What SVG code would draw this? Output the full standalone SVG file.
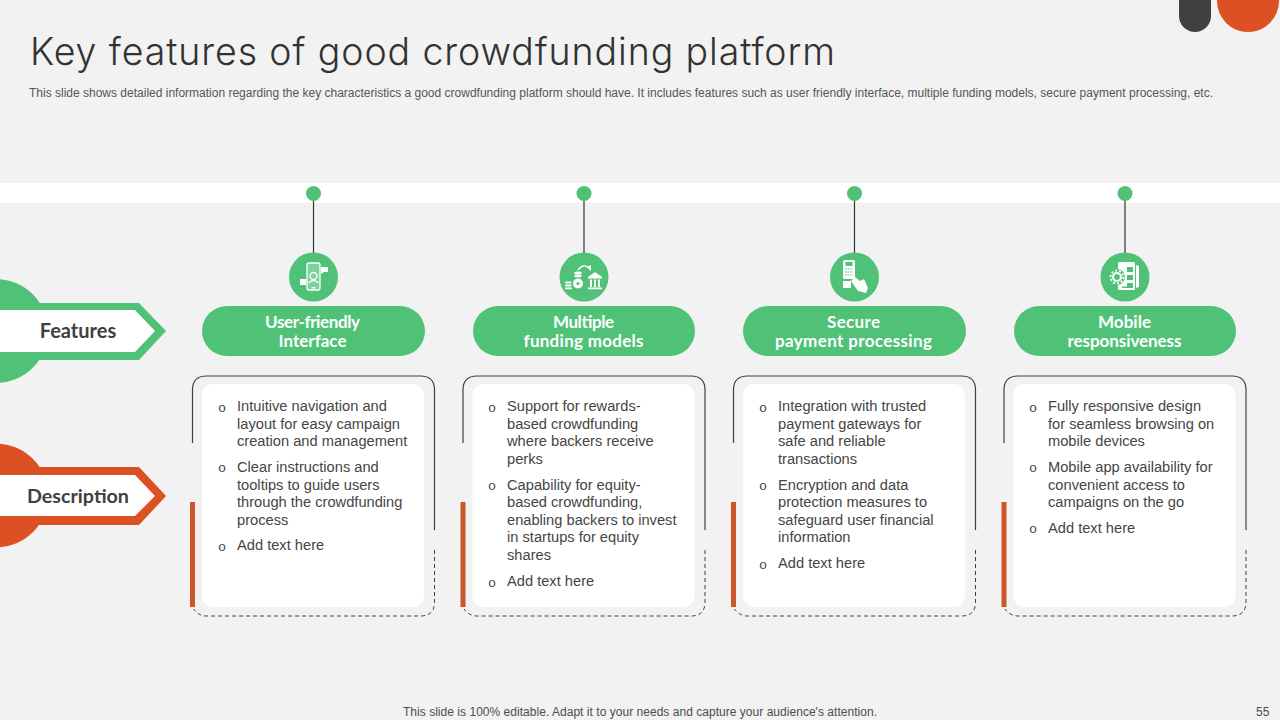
<svg xmlns="http://www.w3.org/2000/svg" xmlns:xlink="http://www.w3.org/1999/xlink" width="1280" height="720" viewBox="0 0 1280 720">
<style>
text{font-family:"Liberation Sans",Arial,sans-serif;fill:#454545}
.t{font-family:Inter,Lato,sans-serif;font-weight:300;font-size:37.500px;fill:#333}
.sub{font-size:12px;fill:#555}
.foot{font-size:12px;fill:#4d4d4d}
.b{font-size:14.67px}
.bu{font-family:"Liberation Mono",monospace;font-size:13.500px;text-anchor:middle}
.pill{fill:#50C278}
.pt{font-family:Lato,"Open Sans",sans-serif;font-size:17px;font-weight:700;fill:#fff;text-anchor:middle}
.lab{font-family:Lato,"Open Sans",sans-serif;font-size:20px;font-weight:700;text-anchor:middle;fill:#404040}
.fr{fill:none;stroke:#404040;stroke-width:1.2}
.da{fill:none;stroke:#404040;stroke-width:1;stroke-dasharray:4 3}
.st{fill:none;stroke:#fff;stroke-width:1.3}
.w{fill:#fff}
</style>
<defs>
<g id="frame">
<path class="fr" d="M0 67V14Q0 0 14 0H228Q242 0 242 14V154"/>
<path class="da" d="M242 174V226Q242 240 228 240H14Q6 240 1 233"/>
<rect x="-2.500" y="126" width="5" height="105" fill="#CC5529"/>
<rect x="9.500" y="8" width="222" height="223" rx="11" fill="#fff"/>
</g>
<g id="stem">
<path d="M0 0V60" stroke="#333" stroke-width="1.200"/>
<circle r="7.500" fill="#50C278"/>
</g>
</defs>
<rect width="1280" height="720" fill="#F2F2F2"/>
<g id="corner">
<path d="M1179 0H1211V16A16 16 0 0 1 1179 16Z" fill="#404040"/>
<circle cx="1248" cy="1" r="31" fill="#DD5022"/>
</g>
<g id="header">
<text class="t" x="30" y="65" textLength="805">Key features of good crowdfunding platform</text>
<text class="sub" x="29" y="97" textLength="1184">This slide shows detailed information regarding the key characteristics a good crowdfunding platform should have. It includes features such as user friendly interface, multiple funding models, secure payment processing, etc.</text>
</g>
<rect id="band" x="0" y="183" width="1280" height="20" fill="#fff"/>
<g id="connectors">
<use xlink:href="#stem" href="#stem" x="313.500" y="193.500"/>
<use xlink:href="#stem" href="#stem" x="584" y="193.500"/>
<use xlink:href="#stem" href="#stem" x="854.500" y="193.500"/>
<use xlink:href="#stem" href="#stem" x="1125" y="193.500"/>
</g>
<g id="features">
<circle cx="-4" cy="331" r="52" fill="#50C278"/>
<path d="M0 303H139L166 331L139 360H0Z" fill="#50C278"/>
<path d="M0 310H135L155 331L135 352H0Z" fill="#fff"/>
<text class="lab" x="78" y="338">Features</text>
</g>
<g id="description">
<circle cx="-4" cy="495.500" r="52" fill="#DD5022"/>
<path d="M0 467H139L166 496L139 525H0Z" fill="#DD5022"/>
<path d="M0 475H135L155 496L135 516H0Z" fill="#fff"/>
<text class="lab" x="78" y="503" style="font-size:19.700px">Description</text>
</g>
<g id="col1">
<circle cx="313.500" cy="277" r="24.500" fill="#50C278"/>
<g>
<rect x="307" y="263" width="13" height="27" rx="2" fill="#fff" fill-opacity=".25" stroke="#fff" stroke-width="1.300"/>
<circle cx="313.500" cy="276" r="3.500" class="st"/>
<path d="M308.500 283Q313.500 278 318.500 283" class="st"/>
<path d="M321 267h7v5h-4l-3 2z" class="w"/>
<rect x="300" y="279" width="6" height="6" class="w"/>
<rect x="311.500" y="287" width="4" height="1.500" class="w"/>
</g>
<rect class="pill" x="202" y="306" width="223" height="50" rx="25"/>
<text class="pt" x="312.500" y="328" textLength="95">User-friendly</text>
<text class="pt" x="312.500" y="347" textLength="68">Interface</text>
<use xlink:href="#frame" href="#frame" x="192.500" y="376"/>
<text class="bu" x="222" y="412">o</text>
<text class="b" x="237" y="411">Intuitive navigation and</text>
<text class="b" x="237" y="429">layout for easy campaign</text>
<text class="b" x="237" y="446">creation and management</text>
<text class="bu" x="222" y="472">o</text>
<text class="b" x="237" y="472">Clear instructions and</text>
<text class="b" x="237" y="490">tooltips to guide users</text>
<text class="b" x="237" y="507">through the crowdfunding</text>
<text class="b" x="237" y="525">process</text>
<text class="bu" x="222" y="551">o</text>
<text class="b" x="237" y="550">Add text here</text>
</g>
<g id="col2">
<circle cx="584" cy="277" r="24.500" fill="#50C278"/>
<g>
<path d="M578 270Q583 263 589 268" class="st"/>
<path d="M591 271L591 265L586.500 267Z" class="w"/>
<ellipse cx="578" cy="273" rx="3.800" ry="1.400" class="w"/>
<ellipse cx="578" cy="276" rx="3.800" ry="1.400" class="w"/>
<circle cx="578" cy="283.500" r="5" class="w"/>
<circle cx="578" cy="283.500" r="1.600" fill="#50C278"/>
<rect x="565" y="281.500" width="6.500" height="2" rx="1" class="w"/>
<rect x="565" y="284.500" width="6.500" height="2" rx="1" class="w"/>
<rect x="565" y="287.500" width="7" height="1.800" rx=".9" class="w"/>
<path d="M588 277L595 272L602 277V278.500H588Z" class="w"/>
<path d="M590 279.500h2v7.500h-2zM594 279.500h2v7.500h-2zM598 279.500h2v7.500h-2zM588 287.500h14v1.800h-14z" class="w"/>
</g>
<rect class="pill" x="473" y="306" width="222" height="50" rx="25"/>
<text class="pt" x="583.500" y="328" textLength="61">Multiple</text>
<text class="pt" x="583.500" y="347" textLength="120">funding models</text>
<use xlink:href="#frame" href="#frame" x="463" y="376"/>
<text class="bu" x="492" y="412">o</text>
<text class="b" x="507" y="411">Support for rewards-</text>
<text class="b" x="507" y="429">based crowdfunding</text>
<text class="b" x="507" y="446">where backers receive</text>
<text class="b" x="507" y="464">perks</text>
<text class="bu" x="492" y="490">o</text>
<text class="b" x="507" y="490">Capability for equity-</text>
<text class="b" x="507" y="507">based crowdfunding,</text>
<text class="b" x="507" y="525">enabling backers to invest</text>
<text class="b" x="507" y="542">in startups for equity</text>
<text class="b" x="507" y="560">shares</text>
<text class="bu" x="492" y="587">o</text>
<text class="b" x="507" y="586">Add text here</text>
</g>
<g id="col3">
<circle cx="854.500" cy="277" r="24.500" fill="#50C278"/>
<g>
<rect x="843" y="260" width="12" height="19" rx="1.500" class="w"/>
<rect x="845.500" y="262" width="7" height="4" fill="#50C278"/>
<path d="M845 269h8M845 272h8M845 275h8" stroke="#50C278" stroke-width="1.200" stroke-dasharray="1.500 1"/>
<rect x="843" y="281" width="8" height="7" class="w"/>
<path d="M855 277L860 281L864 279L868 288L866 293L858 291L851 281Z" class="w"/>
</g>
<rect class="pill" x="743" y="306" width="223" height="50" rx="25"/>
<text class="pt" x="853.500" y="328" textLength="53">Secure</text>
<text class="pt" x="853.500" y="347" textLength="157">payment processing</text>
<use xlink:href="#frame" href="#frame" x="733.500" y="376"/>
<text class="bu" x="763" y="412">o</text>
<text class="b" x="778" y="411">Integration with trusted</text>
<text class="b" x="778" y="429">payment gateways for</text>
<text class="b" x="778" y="446">safe and reliable</text>
<text class="b" x="778" y="464">transactions</text>
<text class="bu" x="763" y="490">o</text>
<text class="b" x="778" y="490">Encryption and data</text>
<text class="b" x="778" y="507">protection measures to</text>
<text class="b" x="778" y="525">safeguard user financial</text>
<text class="b" x="778" y="542">information</text>
<text class="bu" x="763" y="569">o</text>
<text class="b" x="778" y="568">Add text here</text>
</g>
<g id="col4">
<circle cx="1125" cy="277" r="24.500" fill="#50C278"/>
<g>
<rect x="1118" y="262" width="17" height="28" rx="1.500" class="w"/>
<path d="M1136 265L1139 266V287L1136 288Z" class="w"/>
<rect x="1127" y="267" width="6" height="5" fill="#50C278"/>
<rect x="1127" y="275" width="6" height="5" fill="#50C278"/>
<rect x="1127" y="283" width="6" height="5" fill="#50C278"/>
<rect x="1122" y="286.500" width="5" height="1.500" fill="#50C278"/>
<circle cx="1117" cy="277" r="8" fill="#50C278"/>
<circle cx="1117" cy="277" r="4" fill="none" stroke="#fff" stroke-width="2.200"/>
<circle cx="1117" cy="277" r="6.500" fill="none" stroke="#fff" stroke-width="1.800" stroke-dasharray="2 2"/>
</g>
<rect class="pill" x="1014" y="306" width="222" height="50" rx="25"/>
<text class="pt" x="1124.500" y="328" textLength="53">Mobile</text>
<text class="pt" x="1124.500" y="347" textLength="114">responsiveness</text>
<use xlink:href="#frame" href="#frame" x="1004" y="376"/>
<text class="bu" x="1033" y="412">o</text>
<text class="b" x="1048" y="411">Fully responsive design</text>
<text class="b" x="1048" y="429">for seamless browsing on</text>
<text class="b" x="1048" y="446">mobile devices</text>
<text class="bu" x="1033" y="472">o</text>
<text class="b" x="1048" y="472">Mobile app availability for</text>
<text class="b" x="1048" y="490">convenient access to</text>
<text class="b" x="1048" y="507">campaigns on the go</text>
<text class="bu" x="1033" y="533">o</text>
<text class="b" x="1048" y="533">Add text here</text>
</g>
<g id="footer">
<text class="foot" x="403" y="716" textLength="474">This slide is 100% editable. Adapt it to your needs and capture your audience's attention.</text>
<text class="foot" x="1256" y="716">55</text>
</g>
</svg>
